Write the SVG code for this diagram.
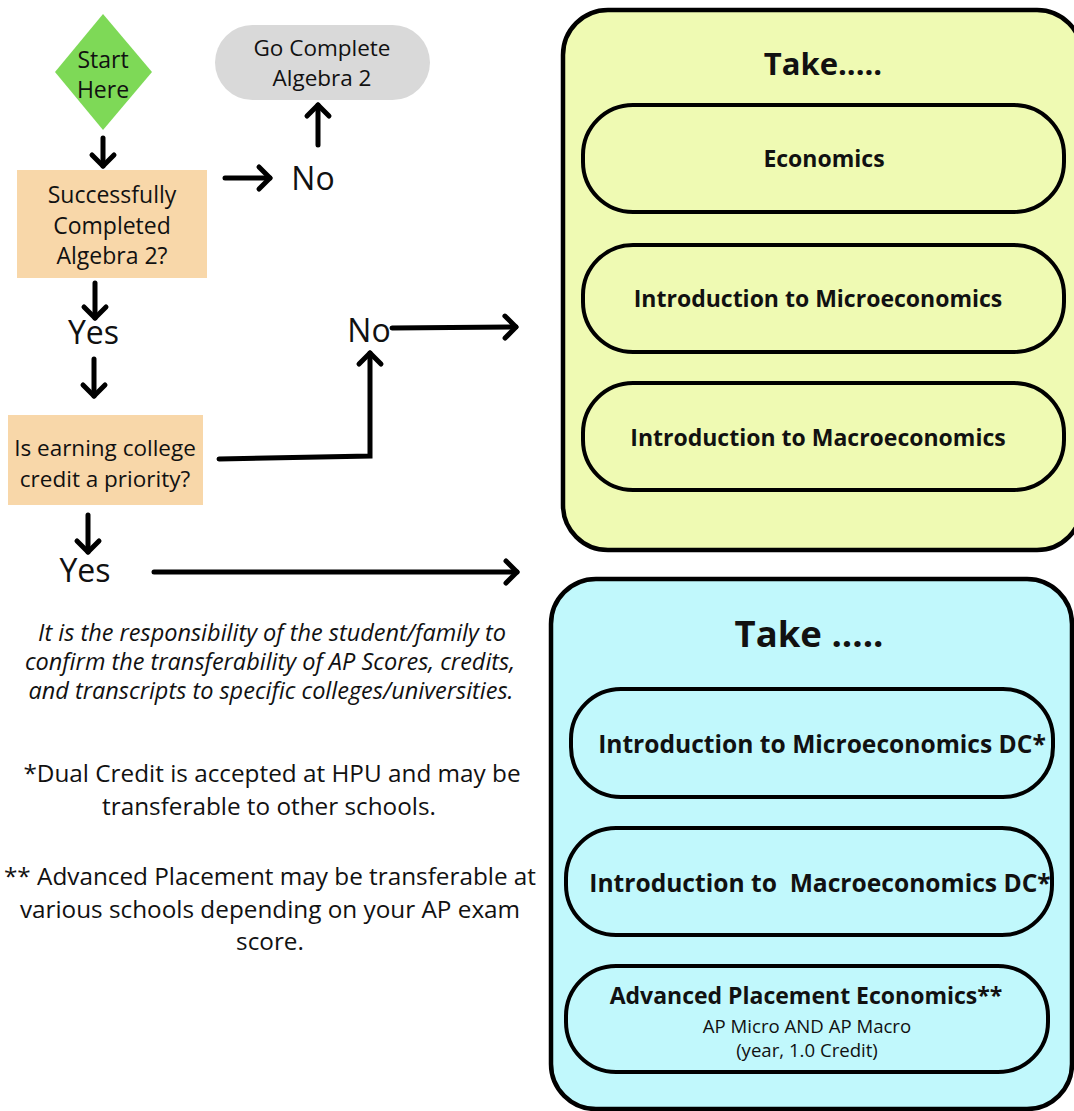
<svg xmlns="http://www.w3.org/2000/svg" width="1074" height="1111" viewBox="0 0 1074 1111">
<style>
text{font-family:"Open Sans","Liberation Sans",sans-serif;fill:#111;text-anchor:middle;dominant-baseline:central}
.n{font-size:23px}
.q{font-size:22.5px}
.lbl{font-size:32px}
.b{font-weight:bold;font-size:23px}
.bb{font-weight:bold;font-size:24.6px}
.h{font-weight:bold;font-size:31px}
.h2{font-weight:bold;font-size:36.5px}
.it{font-style:italic;font-size:23.5px}
.note{font-size:24.3px}
.sm{font-size:18.6px}
.c{fill:none;stroke:#000;stroke-width:5;stroke-linecap:round;stroke-linejoin:miter}
.pill{stroke:#000;stroke-width:4;fill:none}
.panel{stroke:#000;stroke-width:4.5}
</style>
<defs>
<marker id="ah" markerUnits="userSpaceOnUse" viewBox="-16 -14 20 28" refX="0" refY="0" markerWidth="20" markerHeight="28" orient="auto" overflow="visible">
<path d="M-11,-11 L0,0 L-11,11" fill="none" stroke="#000" stroke-width="5" stroke-linecap="round" stroke-linejoin="round"/>
</marker>
</defs>
<rect width="1074" height="1111" fill="#fff"/>

<g id="start">
<polygon points="103,14 152,72 103,130 55,72" fill="#7ED957"/>
<text class="n" x="103" y="59">Start</text>
<text class="n" x="103" y="89">Here</text>
</g>

<g id="go-complete">
<rect x="215" y="25" width="215" height="75" rx="37.5" fill="#D9D9D9"/>
<text class="q" x="322" y="47">Go Complete</text>
<text class="q" x="322" y="77">Algebra 2</text>
</g>

<g id="q-algebra">
<rect x="17" y="170" width="190" height="108" fill="#F8D7A9"/>
<text class="n" x="112" y="194">Successfully</text>
<text class="n" x="112" y="225">Completed</text>
<text class="n" x="112" y="255">Algebra 2?</text>
</g>

<g id="q-credit">
<rect x="8" y="415" width="195" height="90" fill="#F8D7A9"/>
<text class="q" x="105" y="447">Is earning college</text>
<text class="q" x="105" y="478">credit a priority?</text>
</g>

<g id="labels">
<text class="lbl" x="313" y="177">No</text>
<text class="lbl" x="93.5" y="331">Yes</text>
<text class="lbl" x="369" y="329">No</text>
<text class="lbl" x="85" y="569">Yes</text>
</g>

<g id="connectors">
<line class="c" x1="103" y1="138" x2="103" y2="166" marker-end="url(#ah)"/>
<line class="c" x1="225" y1="178" x2="270" y2="178" marker-end="url(#ah)"/>
<line class="c" x1="318" y1="145" x2="318" y2="105" marker-end="url(#ah)"/>
<line class="c" x1="95" y1="283" x2="95" y2="318" marker-end="url(#ah)"/>
<line class="c" x1="94" y1="359" x2="94" y2="396" marker-end="url(#ah)"/>
<polyline class="c" points="219,459 370,456 370,353" marker-end="url(#ah)"/>
<line class="c" x1="392" y1="328" x2="516" y2="327" marker-end="url(#ah)"/>
<line class="c" x1="88" y1="515" x2="88" y2="552" marker-end="url(#ah)"/>
<line class="c" x1="154" y1="572" x2="517" y2="572" marker-end="url(#ah)"/>
</g>

<g id="panel-standard">
<rect class="panel" x="563" y="10" width="519" height="540" rx="45" fill="#EFFAB3"/>
<text class="h" x="823" y="63">Take.....</text>
</g>
<g id="course-economics">
<rect class="pill" x="583" y="105" width="481" height="107" rx="50"/>
<text class="b" x="824" y="158">Economics</text>
</g>
<g id="course-micro">
<rect class="pill" x="583" y="245" width="481" height="107" rx="50"/>
<text class="b" x="818" y="298">Introduction to Microeconomics</text>
</g>
<g id="course-macro">
<rect class="pill" x="583" y="383" width="481" height="107" rx="50"/>
<text class="b" x="818" y="437">Introduction to Macroeconomics</text>
</g>

<g id="panel-credit">
<rect class="panel" x="551" y="579" width="521" height="530" rx="45" fill="#C1F8FC"/>
<text class="h2" x="809" y="633">Take .....</text>
</g>
<g id="course-micro-dc">
<rect class="pill" x="571" y="689" width="482" height="108" rx="50"/>
<text class="bb" x="822" y="743">Introduction to Microeconomics DC*</text>
</g>
<g id="course-macro-dc">
<rect class="pill" x="566" y="828" width="486" height="107" rx="50"/>
<text class="bb" x="820" y="882" xml:space="preserve">Introduction to  Macroeconomics DC*</text>
</g>
<g id="course-ap">
<rect class="pill" x="566" y="966" width="482" height="106" rx="50"/>
<text class="b" x="806" y="995">Advanced Placement Economics**</text>
<text class="sm" x="807" y="1025">AP Micro AND AP Macro</text>
<text class="sm" x="807" y="1049">(year, 1.0 Credit)</text>
</g>

<g id="notes">
<text class="it" x="272" y="632">It is the responsibility of the student/family to</text>
<text class="it" x="270" y="661">confirm the transferability of AP Scores, credits,</text>
<text class="it" x="271" y="690">and transcripts to specific colleges/universities.</text>
<text class="note" x="272" y="772">*Dual Credit is accepted at HPU and may be</text>
<text class="note" x="269" y="805">transferable to other schools.</text>
<text class="note" x="270" y="875">** Advanced Placement may be transferable at</text>
<text class="note" x="270" y="908">various schools depending on your AP exam</text>
<text class="note" x="270" y="940">score.</text>
</g>
</svg>
